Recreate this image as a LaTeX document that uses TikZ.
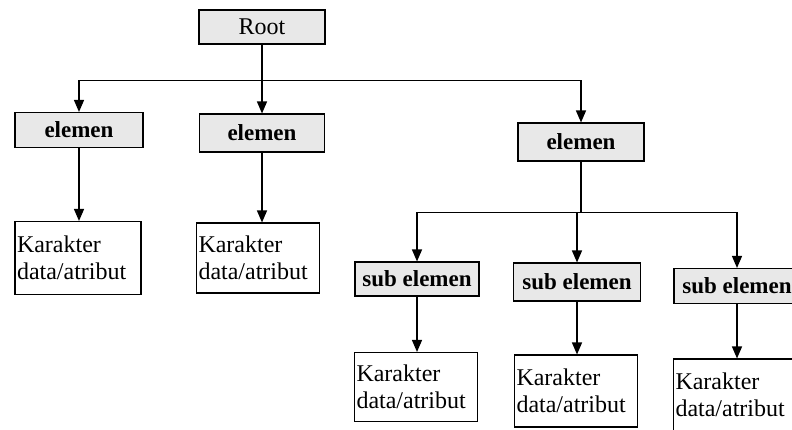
\documentclass[tikz,border=0pt]{standalone}
\usepackage{fontspec}
\setmainfont{Liberation Serif}
\usetikzlibrary{arrows.meta}
\tikzset{
  hbox/.style={draw, line width=1.1pt, fill=black!9, inner sep=0pt,
    minimum width=#1, font=\fontsize{23}{26}\selectfont\bfseries},
  rootbox/.style={draw, line width=1.1pt, fill=black!9, inner sep=0pt,
    minimum width=126pt, minimum height=34pt, font=\fontsize{24}{27}\selectfont},
  kbox/.style={draw, line width=1.1pt, fill=white, inner xsep=2pt, inner ysep=0pt,
    text width=#1, align=left, font=\fontsize{24}{27}\selectfont},
  conn/.style={line width=1.3pt},
  arr/.style={line width=1.3pt, -{Triangle[length=12pt,width=10pt]}}
}
\begin{document}
\begin{tikzpicture}[x=1pt,y=-1pt]
\useasboundingbox (0,0) rectangle (792,429);
% top level
\node[rootbox] (root) at (262,27) {Root};
\node[hbox=128pt, minimum height=35pt] (e1) at (79,130) {elemen};
\node[hbox=125pt, minimum height=38pt] (e2) at (262,133) {elemen};
\node[hbox=126pt, minimum height=38pt] (e3) at (581,142) {elemen};
% sub elements
\node[hbox=124pt, minimum height=34pt] (s1) at (417,279) {sub elemen};
\node[hbox=127pt, minimum height=38pt] (s2) at (577,282) {sub elemen};
\node[hbox=126pt, minimum height=35pt] (s3) at (737,286) {sub elemen};
% leaves
\node[kbox=122pt, minimum height=73pt] (k1) at (78,258) {Karakter\\data/atribut};
\node[kbox=119pt, minimum height=70pt] (k2) at (258,258) {Karakter\\data/atribut};
\node[kbox=119pt, minimum height=69pt] (k3) at (416,387) {Karakter\\data/atribut};
\node[kbox=119pt, minimum height=72pt] (k4) at (576,391) {Karakter\\data/atribut};
\node[kbox=121pt, minimum height=72pt] (k5) at (736,395) {Karakter\\data/atribut};
% junctions
\coordinate (j1) at ([yshift=-36pt]root.south);
\coordinate (j2) at ([yshift=-51pt]e3.south);
% connectors
\draw[conn] (root.south) -- (j1);
\draw[arr] (j1) -| (e1.north);
\draw[arr] (j1) -- (e2.north);
\draw[arr] (j1) -| (e3.north);
\draw[conn] (e3.south) -- (j2);
\draw[arr] (j2) -| (s1.north);
\draw[arr] (j2) -| (s2.north);
\draw[arr] (j2) -| (s3.north);
\draw[arr] (e1.south) -- (e1.south |- k1.north);
\draw[arr] (e2.south) -- (e2.south |- k2.north);
\draw[arr] (s1.south) -- (s1.south |- k3.north);
\draw[arr] (s2.south) -- (s2.south |- k4.north);
\draw[arr] (s3.south) -- (s3.south |- k5.north);
\end{tikzpicture}
\end{document}
